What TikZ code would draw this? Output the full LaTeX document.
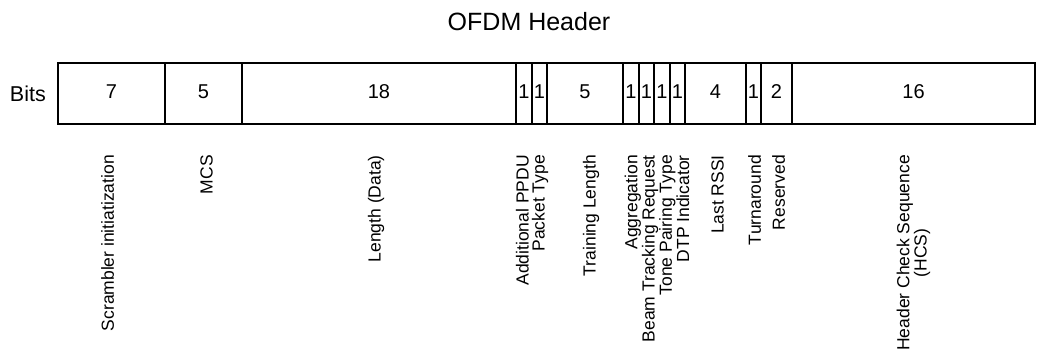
\documentclass[tikz,border=0pt]{standalone}
\usepackage{fontspec}
\setmainfont{Liberation Sans}
\usetikzlibrary{positioning}

\begin{document}
\begin{tikzpicture}[x=1pt, y=1pt,
  node distance=0pt,
  field/.style={draw, line width=1.8pt, outer sep=0pt, inner sep=0pt, minimum height=61pt, text depth=4pt, font=\fontsize{20}{20}\selectfont},
  lbl/.style={rotate=90, anchor=east, align=right, inner sep=0pt, font=\fontsize{17.5}{16}\selectfont}
]
\useasboundingbox (0,0) rectangle (1037,-351);
\node[font=\fontsize{25}{25}\selectfont] (title) at (529,-21.5) {OFDM Header};
% header fields
\node[field, minimum width=107pt, anchor=west] (scr) at (58,-93.5) {7};
\node[field, minimum width=77pt, right=of scr] (mcs) {5};
\node[field, minimum width=274pt, right=of mcs] (len) {18};
\node[field, minimum width=16pt, right=of len] (ppdu) {1};
\node[field, minimum width=15pt, right=of ppdu] (ptype) {1};
\node[field, minimum width=76pt, right=of ptype] (trn) {5};
\node[field, minimum width=16pt, right=of trn] (aggr) {1};
\node[field, minimum width=15pt, right=of aggr] (btr) {1};
\node[field, minimum width=16pt, right=of btr] (tpt) {1};
\node[field, minimum width=15pt, right=of tpt] (dtp) {1};
\node[field, minimum width=61pt, right=of dtp] (rssi) {4};
\node[field, minimum width=15pt, right=of rssi] (turn) {1};
\node[field, minimum width=31pt, right=of turn] (resv) {2};
\node[field, minimum width=243pt, right=of resv] (hcs) {16};
\node[font=\fontsize{21.5}{21.5}\selectfont, inner sep=0pt, left=12pt of scr] (bits) {Bits};
% field names
\node[lbl] (scr-l) at ([yshift=-31pt, xshift=-4pt]scr.south) {Scrambler initiatization};
\node[lbl] (mcs-l) at ([yshift=-31pt, xshift=3pt]mcs.south) {MCS};
\node[lbl] (len-l) at ([yshift=-31pt, xshift=-3pt]len.south) {Length (Data)};
\node[lbl] (ppdu-l) at ([yshift=-31pt]ppdu.south east) {Additional PPDU\\Packet Type};
\node[lbl] (trn-l) at ([yshift=-31pt, xshift=6pt]trn.south) {Training Length};
\node[lbl] (aggr-l) at ([yshift=-31pt, xshift=3pt]btr.south east) {Aggregation\\Beam Tracking Request\\Tone Pairing Type\\DTP Indicator};
\node[lbl] (rssi-l) at ([yshift=-31pt, xshift=2pt]rssi.south) {Last RSSI};
\node[lbl] (turn-l) at ([yshift=-31pt, xshift=1pt]turn.south) {Turnaround};
\node[lbl] (resv-l) at ([yshift=-31pt, xshift=2pt]resv.south) {Reserved};
\node[lbl, align=center] (hcs-l) at ([yshift=-31pt]hcs.south) {Header Check Sequence\\(HCS)};
\end{tikzpicture}
\end{document}
